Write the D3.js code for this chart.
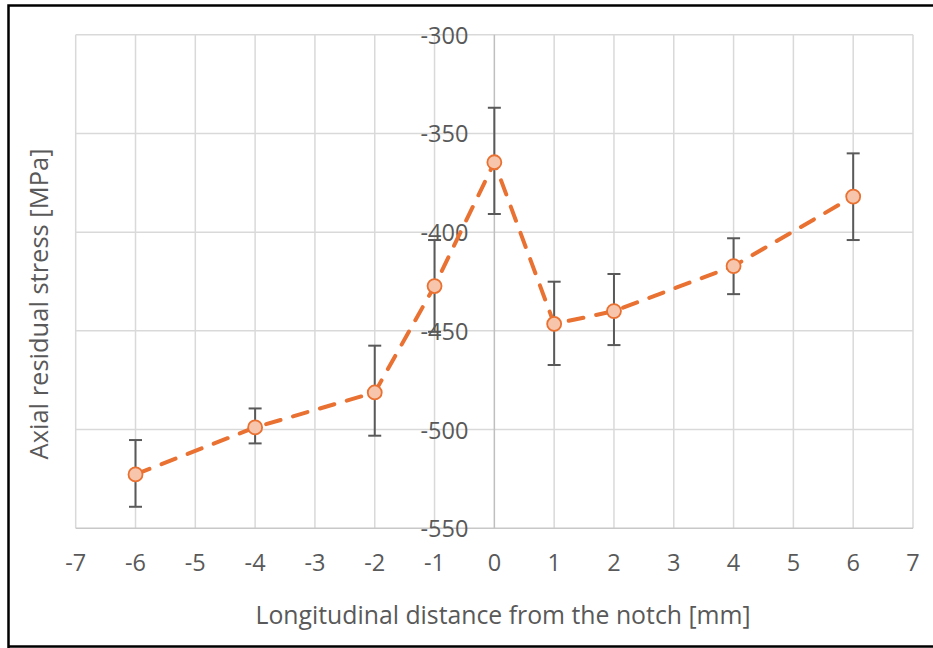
<!DOCTYPE html>
<html>
<head>
<meta charset="utf-8">
<script src="https://cdn.jsdelivr.net/npm/d3@7"></script>
<style>
  body { margin: 0; background: #fff; }
  svg text { font-family: "Open Sans", sans-serif; fill: #595959; }
</style>
</head>
<body>
<div id="chart"></div>
<script>
// data
var distance = [-6, -4, -2, -1, 0, 1, 2, 4, 6];
var stress   = [-522.7, -498.9, -481.2, -427.3, -364.6, -446.5, -440.0, -417.2, -382.0];
var errUp    = [17.4, 9.6, 23.7, 23.3, 27.6, 21.4, 18.8, 14.1, 21.9];
var errDown  = [16.4, 8.1, 21.9, 23.2, 26.2, 20.8, 17.2, 14.2, 22.0];
var xTicks = [-7, -6, -5, -4, -3, -2, -1, 0, 1, 2, 3, 4, 5, 6, 7];
var yTicks = [-300, -350, -400, -450, -500, -550];

var W = 933, H = 648;

var svg = d3.select("#chart")
  .append("svg")
    .attr("width", W)
    .attr("height", H);

// outer frame
svg.append("path")
  .attr("d", "M8.5,660 L8.5,5.5 L940,5.5 M8.5,646.5 L940,646.5")
  .attr("fill", "none")
  .attr("stroke", "#000")
  .attr("stroke-width", 2.5);

var x = d3.scaleLinear().domain([-7, 7]).range([75.7, 913]);
var y = d3.scaleLinear().domain([-550, -300]).range([528.3, 34.7]);

var g = svg.append("g");

// gridlines
g.selectAll(".vgrid")
  .data(xTicks.filter(function(d) { return d !== 0; }))
  .enter().append("line")
    .attr("x1", function(d) { return x(d); })
    .attr("x2", function(d) { return x(d); })
    .attr("y1", y(-300))
    .attr("y2", y(-550))
    .style("stroke", "#d9d9d9")
    .style("stroke-width", 1.5);

g.selectAll(".hgrid")
  .data(yTicks.filter(function(d) { return d !== -550; }))
  .enter().append("line")
    .attr("x1", x(-7))
    .attr("x2", x(7))
    .attr("y1", function(d) { return y(d); })
    .attr("y2", function(d) { return y(d); })
    .style("stroke", "#d9d9d9")
    .style("stroke-width", 1.5);

// axis lines
g.append("line")
  .attr("x1", x(-7)).attr("x2", x(7))
  .attr("y1", y(-550)).attr("y2", y(-550))
  .style("stroke", "#c8c8c8").style("stroke-width", 1.5);
g.append("line")
  .attr("x1", x(0)).attr("x2", x(0))
  .attr("y1", y(-300)).attr("y2", y(-550))
  .style("stroke", "#bfbfbf").style("stroke-width", 1.5);

// tick labels
g.selectAll(".ylab")
  .data(yTicks)
  .enter().append("text")
    .attr("x", x(0) - 26)
    .attr("y", function(d) { return y(d); })
    .attr("text-anchor", "end")
    .attr("dominant-baseline", "central")
    .style("font-size", "23.5px")
    .text(function(d) { return d; });

g.selectAll(".xlab")
  .data(xTicks)
  .enter().append("text")
    .attr("x", function(d) { return x(d); })
    .attr("y", 562)
    .attr("text-anchor", "middle")
    .attr("dominant-baseline", "central")
    .style("font-size", "23.5px")
    .text(function(d) { return d; });

// axis titles
svg.append("text")
  .attr("x", 503)
  .attr("y", 614)
  .attr("text-anchor", "middle")
  .attr("dominant-baseline", "central")
  .style("font-size", "24.8px")
  .text("Longitudinal distance from the notch [mm]");

svg.append("text")
  .attr("transform", "translate(38,304) rotate(-90)")
  .attr("text-anchor", "middle")
  .attr("dominant-baseline", "central")
  .style("font-size", "25.5px")
  .text("Axial residual stress [MPa]");

var pts = distance.map(function(d, i) {
  return {x: d, y: stress[i], hi: stress[i] + errUp[i], lo: stress[i] - errDown[i]};
});

// error bars
var eb = g.selectAll(".err").data(pts).enter().append("g");
eb.append("line")
  .attr("x1", function(d) { return x(d.x); })
  .attr("x2", function(d) { return x(d.x); })
  .attr("y1", function(d) { return y(d.hi); })
  .attr("y2", function(d) { return y(d.lo); })
  .style("stroke", "#595959").style("stroke-width", 2);
eb.append("line")
  .attr("x1", function(d) { return x(d.x) - 6.5; })
  .attr("x2", function(d) { return x(d.x) + 6.5; })
  .attr("y1", function(d) { return y(d.hi); })
  .attr("y2", function(d) { return y(d.hi); })
  .style("stroke", "#595959").style("stroke-width", 2);
eb.append("line")
  .attr("x1", function(d) { return x(d.x) - 6.5; })
  .attr("x2", function(d) { return x(d.x) + 6.5; })
  .attr("y1", function(d) { return y(d.lo); })
  .attr("y2", function(d) { return y(d.lo); })
  .style("stroke", "#595959").style("stroke-width", 2);

// dashed line
var line = d3.line()
  .x(function(d) { return x(d.x); })
  .y(function(d) { return y(d.y); });

g.append("path")
  .datum(pts)
  .attr("d", line)
  .attr("fill", "none")
  .style("stroke", "#E97132")
  .style("stroke-width", 4)
  .style("stroke-dasharray", "15,13")
  .style("stroke-linecap", "round");

// markers
g.selectAll(".pt")
  .data(pts)
  .enter().append("circle")
    .attr("cx", function(d) { return x(d.x); })
    .attr("cy", function(d) { return y(d.y); })
    .attr("r", 7)
    .style("fill", "#F6C5AC")
    .style("stroke", "#E97132")
    .style("stroke-width", 1.8);
</script>
</body>
</html>
